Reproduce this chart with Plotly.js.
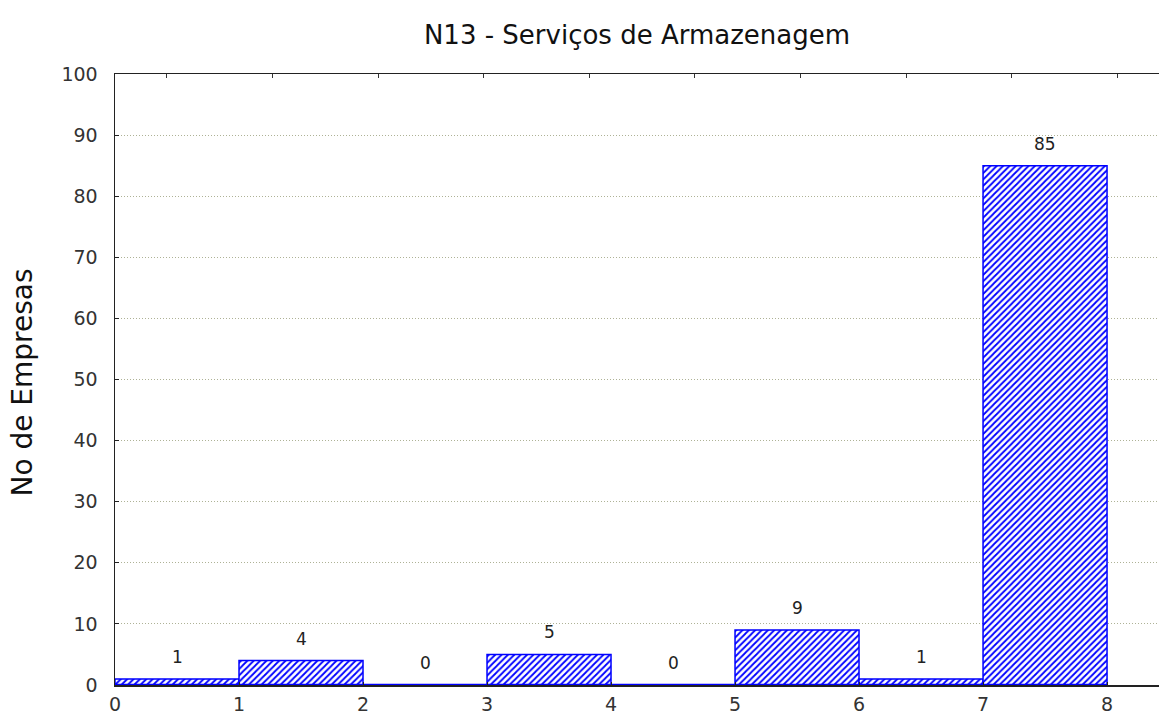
<!DOCTYPE html>
<html>
<head>
<meta charset="utf-8">
<script src="https://cdn.plot.ly/plotly-3.0.1.min.js"></script>
<style>html,body{margin:0;padding:0;background:#fff;}#chart{width:1159px;height:717px;}</style>
</head>
<body>
<div id="chart"></div>
<script>
const binStarts = [0, 1, 2, 3, 4, 5, 6, 7];
const binWidth = 1;
const counts = [1, 4, 0, 5, 0, 9, 1, 85];
const xTickVals = [0, 1, 2, 3, 4, 5, 6, 7, 8];
const yTickVals = [0, 10, 20, 30, 40, 50, 60, 70, 80, 90, 100];
const titleText = "N13 - Serviços de Armazenagem";
const yTitleText = "No de Empresas";

const centers = binStarts.map(s => s + binWidth / 2);
const FONT = "DejaVu Sans, Verdana, sans-serif";
const BLUE = "rgb(0,0,255)";

const baseline = {
  type: "scatter", mode: "lines",
  x: [binStarts[0], binStarts[binStarts.length - 1] + binWidth],
  y: [0, 0],
  line: {color: BLUE, width: 2.5},
  hoverinfo: "skip", showlegend: false
};

const bars = {
  type: "bar",
  x: centers,
  y: counts,
  width: centers.map(() => binWidth),
  marker: {
    color: "white",
    line: {color: BLUE, width: 1.5},
    pattern: {shape: "/", fgcolor: BLUE, bgcolor: "white", size: 4.5, solidity: 0.4}
  },
  showlegend: false
};

const topAxisDummy = {
  type: "scatter", mode: "markers", x: [0], y: [0], xaxis: "x2",
  marker: {opacity: 0}, hoverinfo: "skip", showlegend: false
};

const annotations = centers.map((c, i) => ({
  x: c, y: counts[i], xref: "x", yref: "y",
  text: String(counts[i]), showarrow: false,
  yanchor: "middle", yshift: 22,
  font: {family: FONT, size: 17, color: "#222"}
}));

annotations.push({
  x: 0, xref: "paper", xanchor: "center", xshift: -92,
  y: 0.495, yref: "paper", yanchor: "middle",
  text: yTitleText, textangle: -90, showarrow: false,
  font: {family: FONT, size: 28, color: "#111"}
});

const layout = {
  width: 1159, height: 717,
  margin: {l: 115, r: 0, t: 74, b: 32},
  paper_bgcolor: "white", plot_bgcolor: "white",
  title: {text: titleText, x: 0.5, xref: "paper", y: 0.951, yanchor: "middle",
          font: {family: FONT, size: 26, color: "#111"}},
  bargap: 0,
  showlegend: false,
  xaxis: {
    range: [0, 8.419], tickvals: xTickVals, ticktext: xTickVals.map(String),
    showgrid: false, zeroline: false,
    showline: true, linecolor: "#222", linewidth: 1.5,
    ticks: "inside", ticklen: 3, tickcolor: "#222",
    ticklabelstandoff: 2,
    tickfont: {family: FONT, size: 19, color: "#333"}
  },
  xaxis2: {
    overlaying: "x", side: "top", range: [-0.492, 9.394], dtick: 1, tick0: 0,
    showgrid: false, zeroline: false, showticklabels: false,
    showline: true, linecolor: "#222", linewidth: 1.5,
    ticks: "inside", ticklen: 4, tickcolor: "#333"
  },
  yaxis: {
    range: [0, 100], tickvals: yTickVals, ticktext: yTickVals.map(String),
    showgrid: true, gridcolor: "#aeb296", griddash: "1px,2px", gridwidth: 1,
    zeroline: false,
    showline: true, linecolor: "#222", linewidth: 1.5,
    ticks: "inside", ticklen: 4, tickcolor: "#222",
    ticklabelstandoff: 12,
    tickfont: {family: FONT, size: 19, color: "#333"}
  },
  annotations: annotations
};

Plotly.newPlot("chart", [baseline, bars, topAxisDummy], layout, {displayModeBar: false, staticPlot: true});
</script>
</body>
</html>
